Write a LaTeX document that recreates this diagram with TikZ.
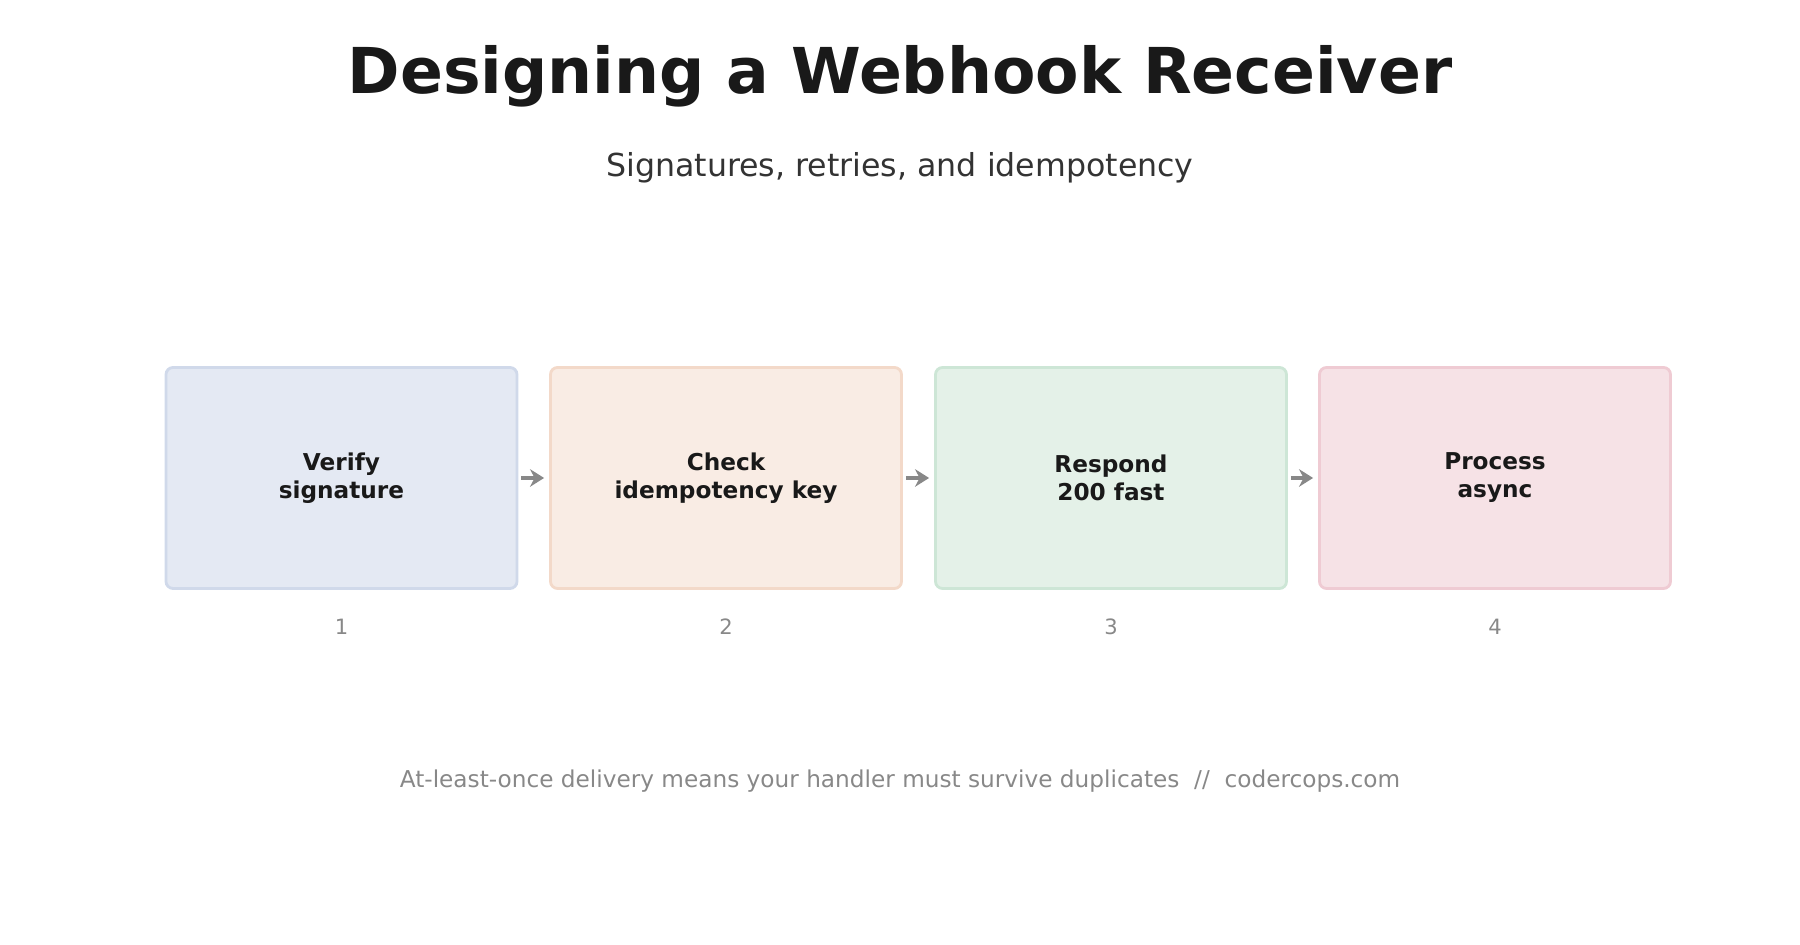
\documentclass[tikz,border=0pt]{standalone}
\usepackage{fontspec}
\setmainfont{DejaVu Sans}
\usetikzlibrary{positioning,arrows.meta}
\definecolor{fillA}{HTML}{E4E9F3}\definecolor{lineA}{HTML}{D0D9EA}
\definecolor{fillB}{HTML}{F9ECE4}\definecolor{lineB}{HTML}{F3D9C9}
\definecolor{fillC}{HTML}{E4F1E8}\definecolor{lineC}{HTML}{CDE6D6}
\definecolor{fillD}{HTML}{F6E2E6}\definecolor{lineD}{HTML}{EFCBD3}
\definecolor{inkgray}{HTML}{888888}
\tikzset{
  stage/.style={draw,line width=0.8pt,rounded corners=2pt,minimum width=3.51cm,
    minimum height=2.21cm,align=center,font=\fontsize{6.6}{8}\selectfont\bfseries,
    text=black!90},
  num/.style={font=\fontsize{6}{7}\selectfont,text=inkgray},
  flow/.style={-{Stealth[length=4pt,width=5pt]},line width=1.3pt,draw=inkgray}
}
\begin{document}
\begin{tikzpicture}
      \useasboundingbox (0,0) rectangle (18,9.45);
      \node[font=\fontsize{18}{21}\selectfont\bfseries,text=black!90]
        (title) at (9,8.69) {Designing a Webhook Receiver};
      \node[font=\fontsize{9}{11}\selectfont,text=black!80]
        (subtitle) at (9,7.77) {Signatures, retries, and idempotency};
      \node[stage,fill=fillA,draw=lineA] (verify) at (3.415,4.67)
        {Verify\\signature};
      \node[stage,fill=fillB,draw=lineB] (check) at (7.26,4.67)
        {Check\\idempotency key};
      \node[stage,fill=fillC,draw=lineC] (respond) at (11.11,4.67)
        {Respond\\200 fast};
      \node[stage,fill=fillD,draw=lineD] (process) at (14.95,4.67)
        {Process\\async};
      \foreach \n/\t in {verify/1,check/2,respond/3,process/4}{
        \node[num,below=0.17cm of \n] (num\t) {\t};
      }
      \draw[flow] ([xshift=0.03cm]verify.east) -- ([xshift=-0.05cm]check.west);
      \draw[flow] ([xshift=0.03cm]check.east) -- ([xshift=-0.05cm]respond.west);
      \draw[flow] ([xshift=0.03cm]respond.east) -- ([xshift=-0.05cm]process.west);
      \node[font=\fontsize{6.6}{8}\selectfont,text=inkgray] (footer) at (9,1.64)
        {At-least-once delivery means your handler must survive duplicates\ \ //\ \ codercops.com};
\end{tikzpicture}
\end{document}
